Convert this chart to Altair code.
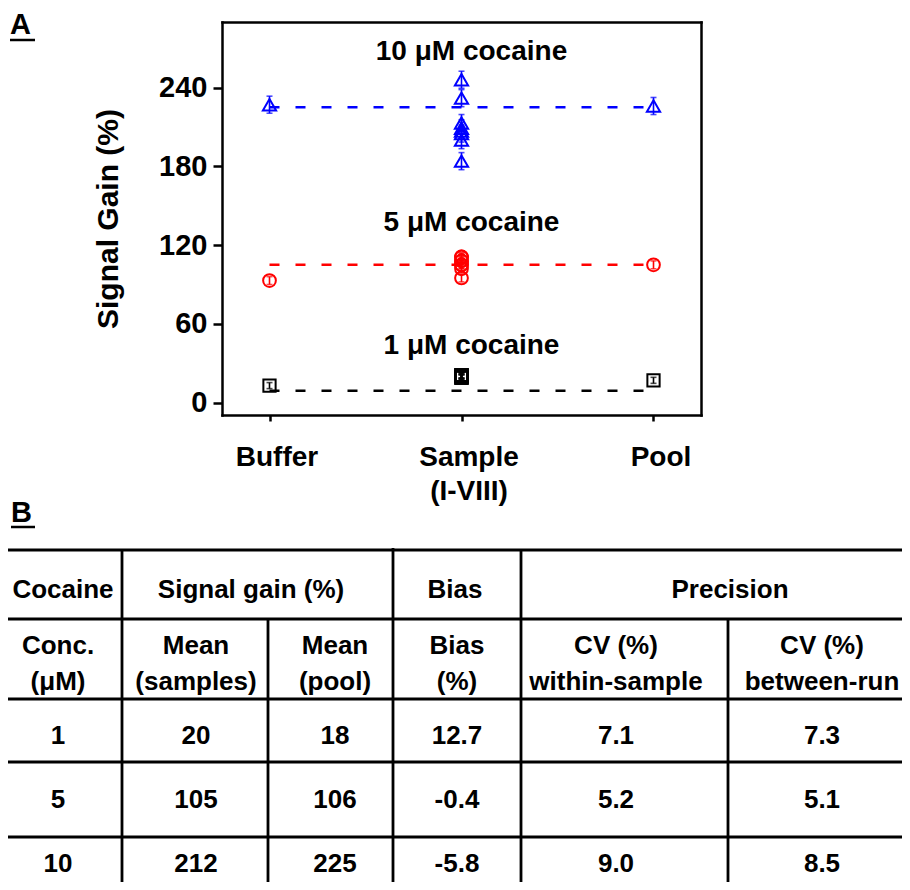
import altair as alt
import pandas as pd

# ---------------- data (panel A) ----------------
categories = ["Buffer", "Sample (I-VIII)", "Pool"]
groups = ["1 μM cocaine", "5 μM cocaine", "10 μM cocaine"]
group_colors = ["#000000", "#ff0000", "#0000ff"]
group_shapes = ["square", "circle", "triangle-up"]
group_sizes = [150, 175, 330]

buffer_gain = [13, 93, 227]
pool_gain = [17, 105, 226]
sample_gain = {
    "1 μM cocaine": [21, 21, 21, 20, 20, 19, 19, 19],
    "5 μM cocaine": [111, 111, 108, 108, 105, 105, 102, 95],
    "10 μM cocaine": [246, 232, 213, 209, 207, 205, 200, 184],
}
error_half = [2.3, 3.0, 6.5]
reference_line = [9, 105, 225]
label_y = [43, 136.5, 267]
y_ticks = [0, 60, 120, 180, 240]

# ---------------- data (panel B) ----------------
header_top = ["Cocaine", "Signal gain (%)", "Bias", "Precision"]
header_sub = ["Conc.\n(μM)", "Mean\n(samples)", "Mean\n(pool)", "Bias\n(%)",
              "CV (%)\nwithin-sample", "CV (%)\nbetween-run"]
conc = ["1", "5", "10"]
mean_samples = [20, 105, 212]
mean_pool = [18, 106, 225]
bias = [12.7, -0.4, -5.8]
cv_within = [7.1, 5.2, 9.0]
cv_between = [7.3, 5.1, 8.5]

# ---------------- layout (page pixels) ----------------
W, H = 894, 874
PL, PR, PT, PB = 214, 693, 14, 407        # scatter frame in chart pixels
col_text_x = [58, 196, 335, 457, 616, 822]
top_text_x = [63, 251, 455, 730]
row_text_y = [590, 646, 736, 800, 864]
LINE_H = 36
h_lines = [550, 619, 699, 762, 837]
v_lines = [(122, 550), (268, 619), (393, 548), (521, 550), (728, 619)]
FONT = "Liberation Sans"


def xs():
    return alt.Scale(type="point", domain=categories, range=[PL, PR], padding=0.2474)


def ys():
    return alt.Scale(domain=[-9.4, 290], range=[PB, PT], nice=False, zero=False)


def pxs():
    return alt.Scale(domain=[8, 8 + W], range=[0, W], nice=False, zero=False)


def pys():
    return alt.Scale(domain=[8, 8 + H], range=[0, H], nice=False, zero=False)


color = alt.Color("group:N", scale=alt.Scale(domain=groups, range=group_colors), legend=None)

# points
prow = []
for gi, g in enumerate(groups):
    prow.append({"cat": categories[0], "gain": buffer_gain[gi], "group": g, "err": error_half[gi]})
    for v in sample_gain[g]:
        prow.append({"cat": categories[1], "gain": v, "group": g, "err": error_half[gi]})
    prow.append({"cat": categories[2], "gain": pool_gain[gi], "group": g, "err": error_half[gi]})
pts = pd.DataFrame(prow)
pts["lo"] = pts["gain"] - pts["err"]
pts["hi"] = pts["gain"] + pts["err"]
caps = pd.concat([
    pts[["cat", "group"]].assign(v=pts["lo"]),
    pts[["cat", "group"]].assign(v=pts["hi"]),
])

ldf = pd.DataFrame([
    {"cat": c, "gain": reference_line[gi], "group": g}
    for gi, g in enumerate(groups) for c in (categories[0], categories[2])
])
adf = pd.DataFrame({"cat": categories[1], "y": label_y, "label": groups})

frame_and_lines = alt.Chart(ldf).mark_line(strokeDash=[10, 16], strokeWidth=2.5).encode(
    x=alt.X("cat:N", scale=xs(), axis=alt.Axis(orient="top", offset=PT * -1, labels=False,
                                               ticks=False, title=None, grid=False,
                                               domainWidth=2.5, domainColor="black",
                                               domainCap="square")),
    y=alt.Y("gain:Q", scale=ys(), axis=alt.Axis(orient="right", offset=PR - W, labels=False,
                                                ticks=False, title=None, grid=False,
                                                domainWidth=2.5, domainColor="black",
                                                domainCap="square")),
    color=color,
    detail="group:N",
)

err_rules = alt.Chart(pts).mark_rule(strokeWidth=1.6).encode(
    x=alt.X("cat:N", scale=xs(), axis=None),
    y=alt.Y("lo:Q", scale=ys(), axis=None),
    y2="hi:Q",
    color=color,
)

err_caps = alt.Chart(caps).mark_tick(thickness=1.6, size=6).encode(
    x=alt.X("cat:N", scale=xs(), axis=None),
    y=alt.Y("v:Q", scale=ys(), axis=None),
    color=color,
)

points = alt.Chart(pts).mark_point(filled=False, strokeWidth=2.0, opacity=1).encode(
    x=alt.X("cat:N", scale=xs(), axis=alt.Axis(
        orient="bottom", offset=PB - H, title=None, grid=False,
        labelExpr="split(datum.label, ' ')", labelAngle=0, labelFontSize=28,
        labelFontWeight="bold", labelFont=FONT, labelBaseline="middle", labelLineHeight=34,
        labelPadding=36, labelOffset=7, labelColor="black", tickSize=6, tickWidth=2.5,
        tickColor="black", domainWidth=2.5, domainColor="black", domainCap="square")),
    y=alt.Y("gain:Q", scale=ys(), axis=alt.Axis(
        orient="left", offset=-PL, values=y_ticks, grid=False, title="Signal Gain (%)",
        titleFontSize=30, titleFontWeight="bold", titleFont=FONT, titleColor="black",
        titleX=-99, titleBaseline="bottom",
        labelFontSize=29, labelFontWeight="bold", labelFont=FONT, labelColor="black",
        labelPadding=6, tickSize=9, tickWidth=2.5, tickColor="black",
        domainWidth=2.5, domainColor="black", domainCap="square")),
    color=color,
    shape=alt.Shape("group:N", scale=alt.Scale(domain=groups, range=group_shapes), legend=None),
    size=alt.Size("group:O", scale=alt.Scale(domain=groups, range=group_sizes), legend=None),
)

annotations = alt.Chart(adf).mark_text(fontSize=28, fontWeight="bold", font=FONT, dx=10,
                                       baseline="middle", color="black").encode(
    x=alt.X("cat:N", scale=xs(), axis=None),
    y=alt.Y("y:Q", scale=ys(), axis=None),
    text="label:N",
)

# ---------------- table ----------------
hdf = pd.DataFrame({"y": h_lines, "x1": 0, "x2": 922})
vdf = pd.DataFrame({"x": [v[0] for v in v_lines], "y1": [v[1] for v in v_lines], "y2": 900})

cells = []
for t, x in zip(header_top, top_text_x):
    cells.append({"x": x, "y": row_text_y[0], "t": t})
for t, x in zip(header_sub, col_text_x):
    cells.append({"x": x, "y": row_text_y[1], "t": t})
for i in range(3):
    vals = [conc[i], str(mean_samples[i]), str(mean_pool[i]), f"{bias[i]:.1f}",
            f"{cv_within[i]:.1f}", f"{cv_between[i]:.1f}"]
    for t, x in zip(vals, col_text_x):
        cells.append({"x": x, "y": row_text_y[2 + i], "t": t})
cdf = pd.DataFrame(cells)

t_h = alt.Chart(hdf).mark_rule(strokeWidth=2.8, color="black", clip=True).encode(
    x=alt.X("x1:Q", scale=pxs(), axis=None), x2="x2:Q",
    y=alt.Y("y:Q", scale=pys(), axis=None),
)
t_v = alt.Chart(vdf).mark_rule(strokeWidth=2.8, color="black", clip=True).encode(
    x=alt.X("x:Q", scale=pxs(), axis=None),
    y=alt.Y("y1:Q", scale=pys(), axis=None), y2="y2:Q",
)
t_text = alt.Chart(cdf).mark_text(fontSize=26, fontWeight="bold", font=FONT, color="black",
                                  baseline="middle", align="center", lineBreak="\n",
                                  lineHeight=LINE_H).encode(
    x=alt.X("x:Q", scale=pxs(), axis=None),
    y=alt.Y("y:Q", scale=pys(), axis=None),
    text="t:N",
)

panel_df = pd.DataFrame({"x": [10, 11], "y": [25, 513], "t": ["A", "B"]})
panel_ul = pd.DataFrame({"x1": [10, 11], "x2": [35, 35], "y": [40, 527]})
p_text = alt.Chart(panel_df).mark_text(fontSize=29, fontWeight="bold", font=FONT, color="black",
                                       baseline="middle", align="left").encode(
    x=alt.X("x:Q", scale=pxs(), axis=None),
    y=alt.Y("y:Q", scale=pys(), axis=None),
    text="t:N",
)
p_ul = alt.Chart(panel_ul).mark_rule(strokeWidth=2.5, color="black").encode(
    x=alt.X("x1:Q", scale=pxs(), axis=None), x2="x2:Q",
    y=alt.Y("y:Q", scale=pys(), axis=None),
)

chart = alt.layer(
    frame_and_lines, err_rules, err_caps, points, annotations,
    t_h, t_v, t_text, p_text, p_ul,
).resolve_scale(
    x="independent", y="independent"
).properties(
    width=W, height=H, padding=0, autosize=alt.AutoSizeParams(type="none")
).configure(font=FONT).configure_view(stroke=None)

chart.save("out.html", embed_options={"renderer": "svg", "actions": False})
